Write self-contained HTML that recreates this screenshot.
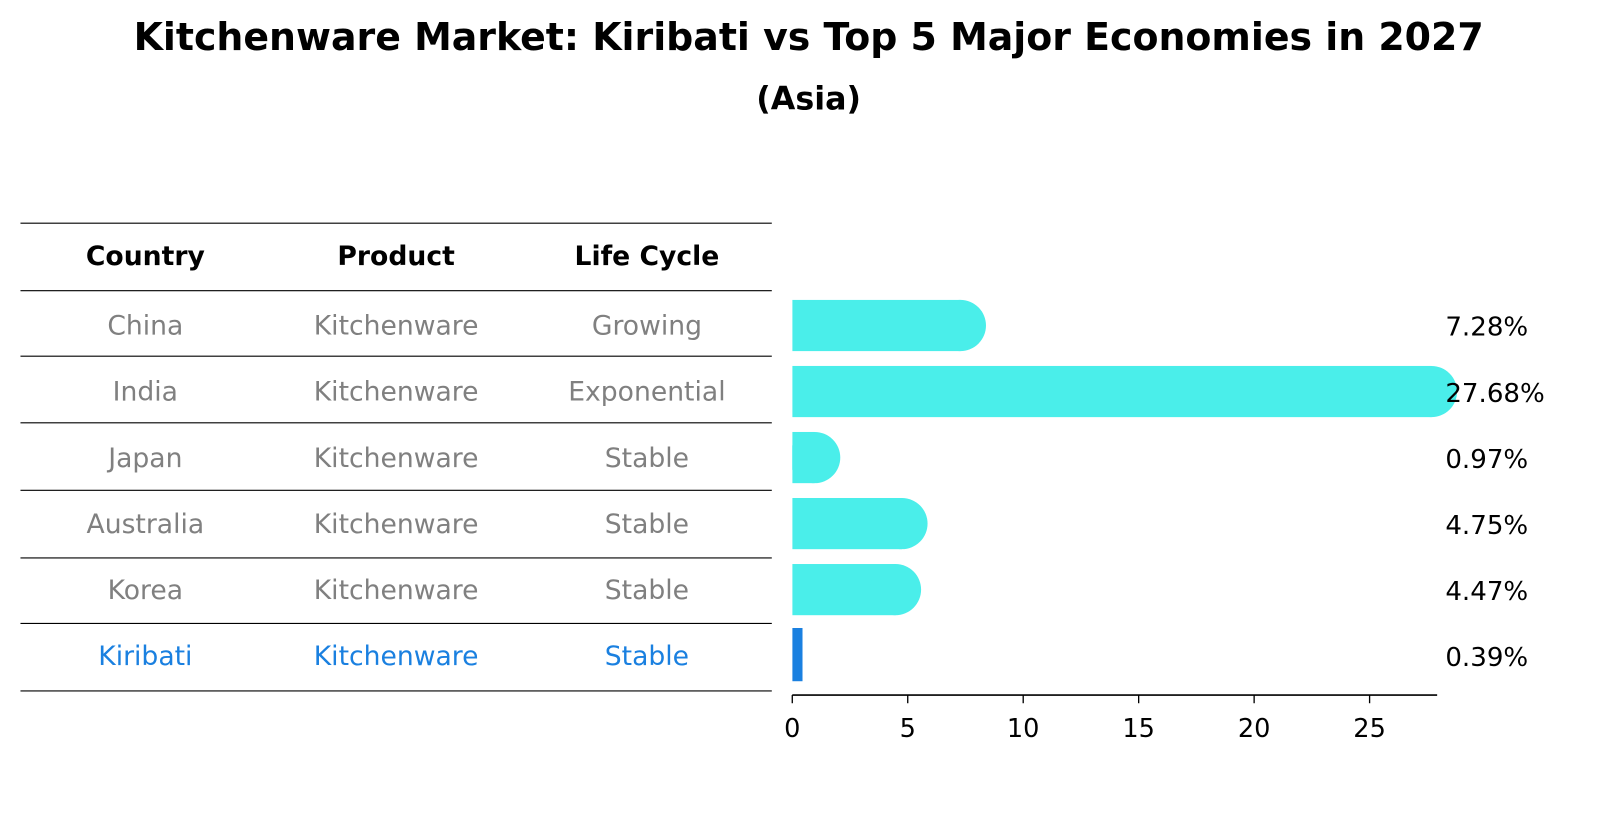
<!DOCTYPE html>
<html><head><meta charset="utf-8"><style>
html,body{margin:0;padding:0;background:#fff;overflow:hidden;width:1604px;height:823px}
svg{display:block}
</style></head><body>
<svg width="1604" height="823" viewBox="0 0 1567 804" preserveAspectRatio="none" xmlns="http://www.w3.org/2000/svg" font-family="DejaVu Sans, Liberation Sans, sans-serif">
<defs><clipPath id="plotclip"><rect x="774" y="200" width="800" height="480"/></clipPath></defs>
<text x="790" y="49" text-anchor="middle" font-size="37" font-weight="bold">Kitchenware Market: Kiribati vs Top 5 Major Economies in 2027</text>
<text x="790" y="107" text-anchor="middle" font-size="31" font-weight="bold">(Asia)</text>
<g id="table"></g>
<g id="bars"></g>
<g id="labels"></g>
<g id="axis"></g>
</svg>
<script>
const countries=["China","India","Japan","Australia","Korea","Kiribati"];
const products=["Kitchenware","Kitchenware","Kitchenware","Kitchenware","Kitchenware","Kitchenware"];
const lifeCycles=["Growing","Exponential","Stable","Stable","Stable","Stable"];
const values=[7.28,27.68,0.97,4.75,4.47,0.39];
const ticks=[0,5,10,15,20,25];
const NS="http://www.w3.org/2000/svg";
function mk(t,a,p,txt){const e=document.createElementNS(NS,t);for(const k in a)e.setAttribute(k,a[k]);if(txt!==undefined)e.textContent=txt;p.appendChild(e);return e;}
const x=v=>774+v*22.56;
const rowY=i=>318+i*64.5;
const tbl=document.getElementById('table');
const lineYs=[218,284,348,413,479,545,609,675];
lineYs.forEach(y=>{const l=mk('line',{x1:20,x2:754,y1:y,y2:y,stroke:'#000','stroke-width':1.1},tbl);

});
const cols=[142,387,632];
["Country","Product","Life Cycle"].forEach((h,j)=>{const t=mk('text',{x:cols[j],y:259,'text-anchor':'middle','font-size':26,'font-weight':'bold'},tbl,h);

});
const bars=document.getElementById('bars');
bars.setAttribute('clip-path','url(#plotclip)');
const labels=document.getElementById('labels');
countries.forEach((c,i)=>{
 const y=rowY(i);const hl=c==="Kiribati";const col=hl?'#1a80e0':'#808080';
 [c,products[i],lifeCycles[i]].forEach((s,j)=>{const t=mk('text',{x:cols[j],y:y+9,'text-anchor':'middle','font-size':26,fill:col},tbl,s);
 
 });
 const v=values[i];
 if(hl){
  const r=mk('rect',{x:774,y:y-27,width:Math.max(x(v)-774,10),height:52,fill:'#1a80e0'},bars);
  
  
 }else{
  const g=mk('g',{},bars);
  
  
  mk('rect',{x:774,y:y-25,width:Math.max(x(v)-774,0),height:50,fill:'#4aeeea'},g);
  mk('circle',{cx:x(v),cy:y,r:25,fill:'#4aeeea'},g);
 }
 const lb=mk('text',{x:1412,y:y+10,'font-size':25.5},labels,v.toFixed(2)+'%');
 
 
});
const ax=document.getElementById('axis');
mk('line',{x1:774,x2:1404,y1:679,y2:679,stroke:'#000','stroke-width':1.6},ax);
ticks.forEach(t=>{mk('line',{x1:x(t),x2:x(t),y1:679,y2:687,stroke:'#000','stroke-width':1.3},ax);
 const tx=mk('text',{x:x(t),y:720,'text-anchor':'middle','font-size':25},ax,String(t));
 
 });
</script>
</body></html>
